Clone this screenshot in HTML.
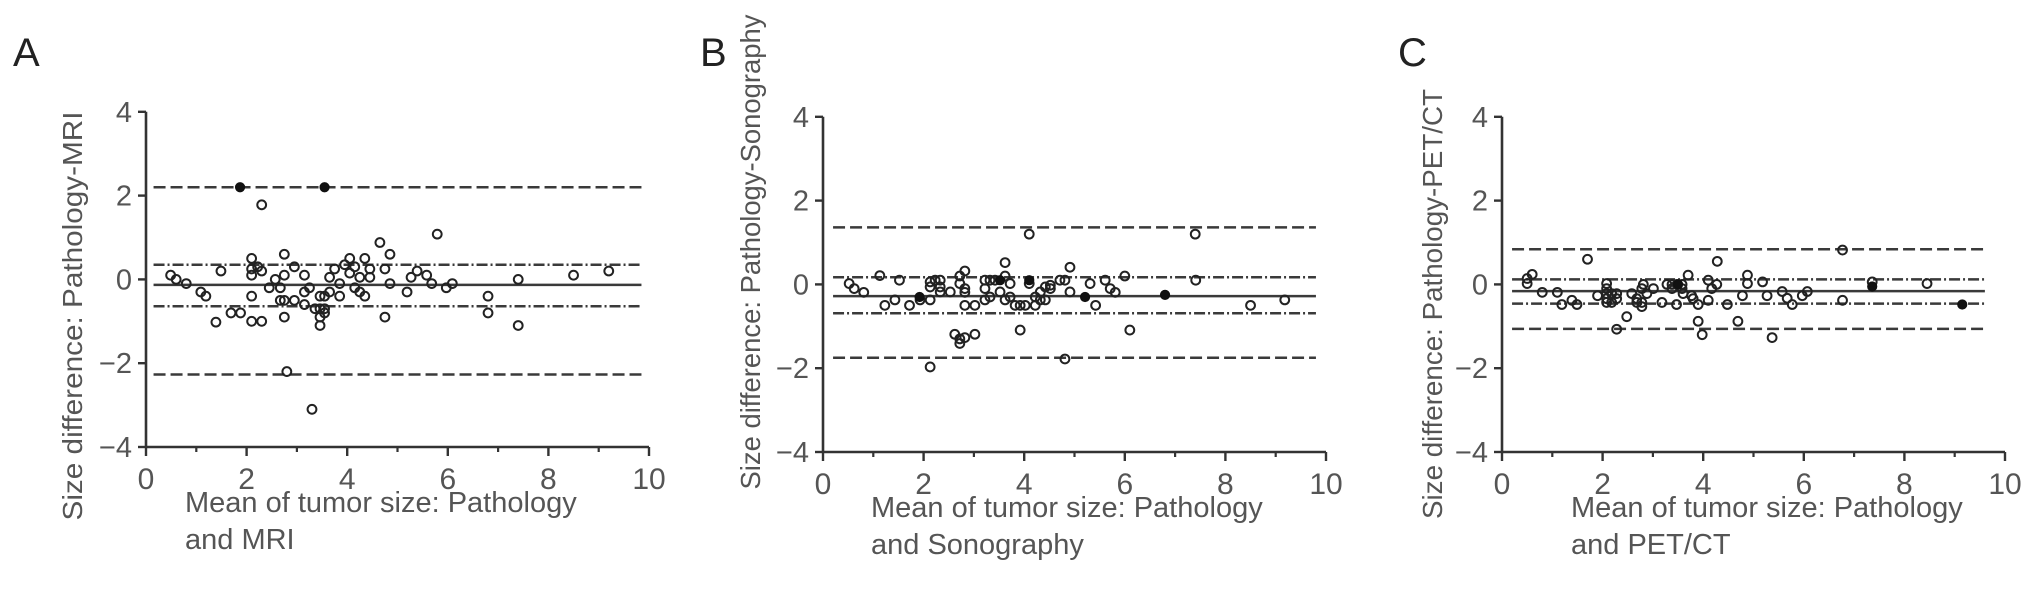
<!DOCTYPE html>
<html><head><meta charset="utf-8">
<style>
html,body{margin:0;padding:0;background:#fff;}
svg{display:block;font-family:"Liberation Sans",Arial,sans-serif;}
</style></head>
<body>
<svg id="fig" width="2032" height="605" viewBox="0 0 2032 605"></svg>
<script>
// ---- data ----
const xTicks = [0, 2, 4, 6, 8, 10];
const yTicks = [-4, -2, 0, 2, 4];

const aX = [0.49,0.6,0.8,1.09,1.19,1.49,1.39,1.69,1.88,2.1,2.1,2.1,2.22,2.3,2.1,2.1,2.3,2.3,2.45,2.57,2.67,2.75,2.75,2.67,2.75,2.75,2.95,2.95,3.15,3.15,3.15,3.25,3.36,3.46,3.55,3.46,3.46,3.55,3.46,3.55,3.65,3.65,3.75,3.85,3.85,3.95,4.05,4.05,4.15,4.15,4.25,4.25,4.35,4.35,4.45,4.45,4.65,4.75,4.85,4.85,4.75,5.19,5.27,5.39,5.58,5.68,5.97,6.09,5.79,6.8,6.8,7.4,7.4,8.5,9.2,2.8,3.3];
const aY = [0.1,0,-0.1,-0.3,-0.4,0.2,-1.02,-0.8,-0.8,0.5,0.25,0.1,0.3,0.2,-0.4,-1.0,-1.0,1.78,-0.2,0.0,-0.2,0.6,0.1,-0.5,-0.5,-0.9,0.3,-0.5,0.1,-0.3,-0.6,-0.2,-0.7,-0.7,-0.7,-0.9,-1.1,-0.8,-0.4,-0.4,-0.3,0.05,0.25,-0.1,-0.4,0.35,0.5,0.15,0.3,-0.2,0.05,-0.3,-0.4,0.5,0.25,0.05,0.88,0.25,0.6,-0.1,-0.9,-0.3,0.05,0.2,0.1,-0.1,-0.2,-0.1,1.08,-0.4,-0.8,0.0,-1.1,0.1,0.2,-2.2,-3.1];
const aFX = [1.87, 3.55];
const aFY = [2.2, 2.2];
const aLines = [2.2, 0.35, -0.13, -0.64, -2.27];

const bX = [0.52,0.62,0.81,1.13,1.23,1.43,1.52,1.72,1.93,2.13,2.13,2.13,2.13,2.23,2.33,2.33,2.33,2.53,2.62,2.72,2.82,2.72,3.02,2.72,2.82,2.72,2.82,2.82,2.82,3.02,3.22,3.22,3.22,3.32,3.42,3.32,3.52,3.62,3.72,3.62,3.62,3.72,3.82,3.92,4.02,4.22,3.92,4.1,4.1,4.22,4.32,4.42,4.32,4.42,4.52,4.52,4.71,4.81,4.91,4.91,4.81,5.31,5.42,5.61,5.71,5.81,6.0,6.1,7.4,7.41,8.5,9.18];
const bY = [0.02,-0.1,-0.19,0.21,-0.5,-0.37,0.1,-0.5,-0.37,-0.37,-1.97,0.06,-0.06,0.1,0.1,-0.06,-0.18,-0.18,-1.19,-1.41,-1.27,-1.3,-1.19,0.2,0.32,0.02,-0.1,-0.19,-0.5,-0.5,0.1,-0.1,-0.37,0.1,0.1,-0.3,-0.18,-0.37,-0.3,0.52,0.2,0.02,-0.5,-0.5,-0.5,-0.5,-1.09,1.2,0.02,-0.3,-0.37,-0.37,-0.18,-0.06,-0.02,-0.1,0.1,0.1,0.41,-0.18,-1.78,0.02,-0.5,0.1,-0.1,-0.19,0.2,-1.09,1.2,0.1,-0.5,-0.37];
const bFX = [1.92, 3.52, 4.1, 5.21, 6.8];
const bFY = [-0.3, 0.1, 0.1, -0.3, -0.25];
const bLines = [1.36, 0.17, -0.28, -0.69, -1.75];

const cX = [0.5,0.6,0.5,0.8,1.1,1.19,1.39,1.49,1.7,1.9,2.08,2.08,2.08,2.08,2.18,2.28,2.28,2.08,2.18,2.28,2.48,2.58,2.68,2.68,2.78,2.78,2.78,2.88,2.81,3.01,3.18,3.28,3.38,3.48,3.58,3.38,3.58,3.6,3.7,3.77,3.8,3.47,3.9,3.9,3.98,4.1,4.1,4.17,4.27,4.28,4.48,4.69,4.78,4.88,4.88,5.18,5.27,5.57,5.67,5.77,5.97,6.07,5.37,6.77,6.77,7.36,8.45];
const cY = [0.02,0.24,0.14,-0.19,-0.19,-0.48,-0.38,-0.48,0.6,-0.27,0.02,-0.1,-0.22,-0.34,-0.22,-0.22,-0.34,-0.43,-0.43,-1.07,-0.77,-0.22,-0.34,-0.43,-0.43,-0.53,-0.1,-0.22,0.0,-0.1,-0.43,0.0,0.0,0.0,0.0,-0.1,-0.1,-0.22,0.22,-0.27,-0.34,-0.48,-0.48,-0.88,-1.2,0.1,-0.38,-0.1,0.0,0.55,-0.48,-0.88,-0.27,0.22,0.02,0.06,-0.27,-0.17,-0.33,-0.48,-0.27,-0.17,-1.27,0.82,-0.38,0.06,0.02];
const cFX = [7.36, 9.15, 3.5];
const cFY = [-0.05, -0.48, 0.0];
const cLines = [0.84, 0.12, -0.16, -0.46, -1.06];

const panels = [
  {id:'a', letter:'A', ox:146, oy:447, lx:13, ytitle:'Size difference: Pathology-MRI', ytx:82, yty:316, ytl:409,
   xt1:'Mean of tumor size: Pathology', xt2:'and MRI', xtx:185, xs:aX, ys:aY, fx:aFX, fy:aFY, lines:aLines, l0:0.15, l1:9.85},
  {id:'b', letter:'B', ox:823, oy:452, lx:700, ytitle:'Size difference: Pathology-Sonography', ytx:760, yty:252, ytl:475,
   xt1:'Mean of tumor size: Pathology', xt2:'and Sonography', xtx:871, xs:bX, ys:bY, fx:bFX, fy:bFY, lines:bLines, l0:0.2, l1:9.8},
  {id:'c', letter:'C', ox:1502, oy:452, lx:1398, ytitle:'Size difference: Pathology-PET/CT', ytx:1442, yty:304, ytl:430,
   xt1:'Mean of tumor size: Pathology', xt2:'and PET/CT', xtx:1571, xs:cX, ys:cY, fx:cFX, fy:cFY, lines:cLines, l0:0.2, l1:9.6}
];

const NS = 'http://www.w3.org/2000/svg';
const svg = document.getElementById('fig');
function mk(tag, attrs, parent){
  const e = document.createElementNS(NS, tag);
  for (const k in attrs) e.setAttribute(k, attrs[k]);
  (parent||svg).appendChild(e);
  return e;
}
const XS = 50.3, YS = 41.9;
const lineStyles = ['12,5','11,3,2,3','','11,3,2,3','12,5'];
const lineNames = ['upper-limit-line','upper-ci-line','mean-difference-line','lower-ci-line','lower-limit-line'];

panels.forEach(p => {
  const g = mk('g', {});
  
  
  const sx = v => p.ox + v * XS;
  const sy = v => p.oy - (v + 4) * YS;

  const L = mk('text', {x:p.lx, y:66, 'font-size':40, fill:'#222'}, g);
  L.textContent = p.letter;
  
  

  p.lines.forEach((v, i) => {
    const ln = mk('line', {x1:sx(p.l0), x2:sx(p.l1), y1:sy(v), y2:sy(v), stroke:'#3a3a3a', 'stroke-width':2.5}, g);
    if (lineStyles[i]) ln.setAttribute('stroke-dasharray', lineStyles[i]);
    
    
  });

  const ya = mk('line', {x1:p.ox, x2:p.ox, y1:sy(4), y2:p.oy, stroke:'#333', 'stroke-width':2.6}, g);
  
  
  const xa = mk('line', {x1:p.ox, x2:sx(10), y1:p.oy, y2:p.oy, stroke:'#333', 'stroke-width':2.6}, g);
  
  

  yTicks.forEach(t => {
    mk('line', {x1:p.ox-8, x2:p.ox, y1:sy(t), y2:sy(t), stroke:'#333', 'stroke-width':2.4}, g);
    const tx = mk('text', {x:p.ox-14, y:sy(t)+10, 'font-size':29, fill:'#555', 'text-anchor':'end'}, g);
    tx.textContent = t < 0 ? '\u2212' + Math.abs(t) : String(t);
    
    
  });
  xTicks.forEach(t => {
    mk('line', {x1:sx(t), x2:sx(t), y1:p.oy, y2:p.oy+9, stroke:'#333', 'stroke-width':2.4}, g);
    if (t < 10) mk('line', {x1:sx(t+1), x2:sx(t+1), y1:p.oy, y2:p.oy+5, stroke:'#333', 'stroke-width':2.2}, g);
    const tx = mk('text', {x:sx(t), y:p.oy+42, 'font-size':30, fill:'#555', 'text-anchor':'middle'}, g);
    tx.textContent = String(t);
    
    
  });

  const yt = mk('text', {x:p.ytx, y:p.yty, 'font-size':28, fill:'#555', 'text-anchor':'middle',
    transform:'rotate(-90 ' + p.ytx + ' ' + p.yty + ')', textLength:p.ytl, lengthAdjust:'spacingAndGlyphs'}, g);
  yt.textContent = p.ytitle;
  
  

  const x1 = mk('text', {x:p.xtx, y:p.oy+65, 'font-size':29, fill:'#555'}, g);
  x1.textContent = p.xt1;
  
  
  const x2 = mk('text', {x:p.xtx, y:p.oy+102, 'font-size':29, fill:'#555'}, g);
  x2.textContent = p.xt2;
  
  

  p.xs.forEach((v, i) => {
    const c = mk('circle', {cx:sx(v), cy:sy(p.ys[i]), r:4.4, fill:'none', stroke:'#222', 'stroke-width':2}, g);
    
    
  });
  p.fx.forEach((v, i) => {
    const c = mk('circle', {cx:sx(v), cy:sy(p.fy[i]), r:4.6, fill:'#111', stroke:'#111', 'stroke-width':1}, g);
    
    
  });
});
</script>
</body></html>
